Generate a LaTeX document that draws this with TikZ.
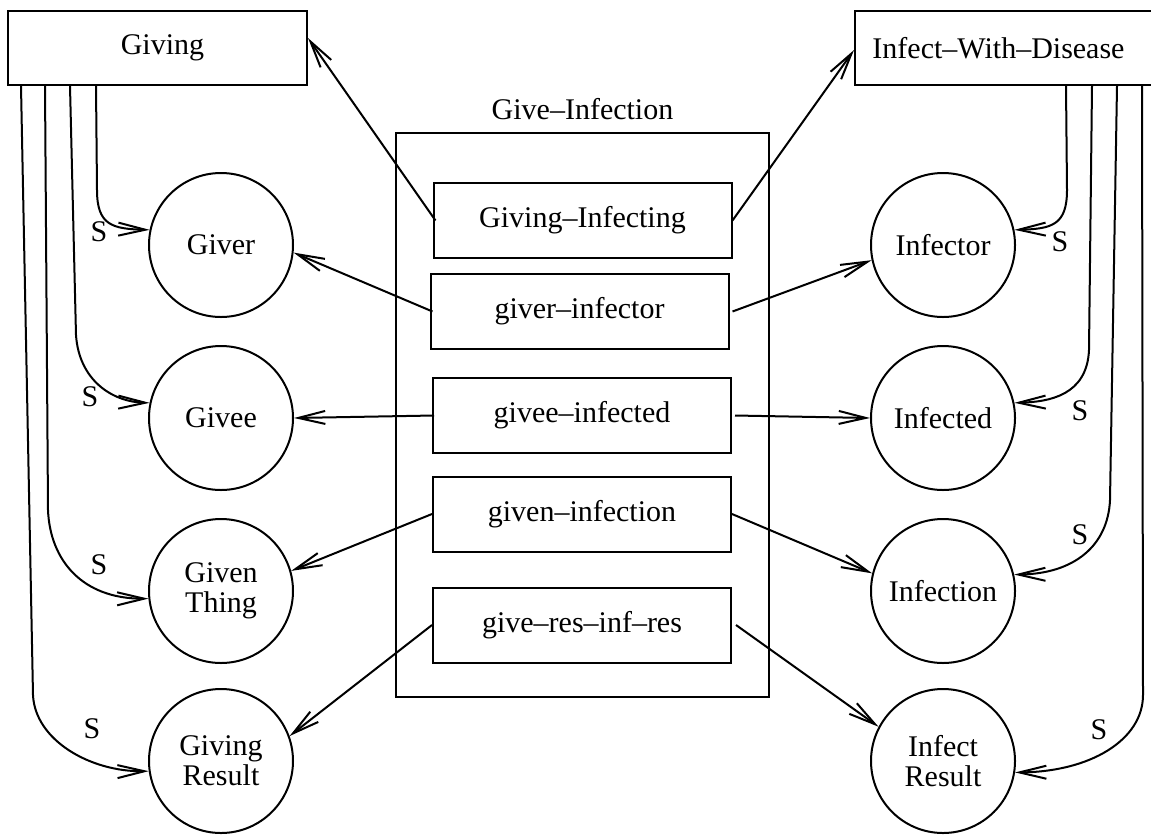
\documentclass[tikz,border=0pt]{standalone}
\usepackage{fontspec}
\setmainfont{Liberation Serif}
\usetikzlibrary{arrows.meta}
\begin{document}
\begin{tikzpicture}[x=1pt,y=-1pt,
  every node/.style={font=\fontsize{30}{30}\selectfont},
  box/.style={draw, rectangle, line width=2pt, inner sep=0pt},
  framebox/.style={box, minimum width=299pt, minimum height=74pt},
  relbox/.style={box, minimum width=298pt, minimum height=75pt},
  role/.style={draw, circle, line width=2pt, minimum size=144pt, inner sep=0pt, align=center},
  link/.style={line width=2pt, -{Straight Barb[length=27pt,width=13pt]}},
  slabel/.style={inner sep=0pt}]
\useasboundingbox (0,0) rectangle (1151,836);
\clip (0,0) rectangle (1151,836);

% frames
\node[framebox, label={[xshift=5pt]center:Giving}] (giving) at (157.5,48) {};
\node[framebox, label={[xshift=-6pt]center:Infect--With--Disease}] (infect) at (1004.5,48) {};

% the mapping frame and its relation boxes
\node[box, minimum width=373pt, minimum height=564pt,
      label={[label distance=12pt, inner sep=0pt]above:Give--Infection}] (mapping) at (582.5,415) {};
\node[relbox] (gi) at (582.5,220.5) {Giving--Infecting};
\node[relbox] (gr) at (579.5,311.5) {giver--infector};
\node[relbox] (ge) at (582,415.5) {givee--infected};
\node[relbox] (gn) at (582,514) {given--infection};
\node[relbox] (gs) at (582,625) {give--res--inf--res};

% roles of Giving
\node[role] (giver) at (221,245) {Giver};
\node[role] (givee) at (221,418) {Givee};
\node[role] (given) at (221,591) {Given\\Thing};
\node[role] (givres) at (221,761) {Giving\\Result};

% roles of Infect-With-Disease
\node[role] (infector) at (943,245) {Infector};
\node[role] (infected) at (943,418) {Infected};
\node[role] (infection) at (943,591) {Infection};
\node[role] (infres) at (943,761) {Infect\\Result};

% mapping links
\draw[link] ([xshift=3pt]gi.west) -- ([yshift=10pt]giving.east);
\draw[link] (gi.east) -- ([yshift=-2pt]infect.west);
\draw[link] ([xshift=3pt]gr.west) -- (giver.-6);
\draw[link] ([xshift=3pt]gr.east) -- (infector.192);
\draw[link] ([xshift=2pt]ge.west) -- (givee.east);
\draw[link] ([xshift=3pt]ge.east) -- (infected.west);
\draw[link] (gn.west) -- (given.16);
\draw[link] (gn.east) -- (infection.166);
\draw[link] (gs.west) -- (givres.20);
\draw[link] ([xshift=4pt]gs.east) -- (infres.152);

% frame-to-role links, left
\draw[link] ([xshift=89pt]giving.south west) -- (97,190) .. controls (97,225) and (112,229) .. (giver.168);
\draw[link] ([xshift=63pt]giving.south west) -- (76,335) .. controls (79,380) and (112,402) .. (givee.168);
\draw[link] ([xshift=38pt]giving.south west) -- (48,510) .. controls (50,560) and (82,599) .. (given.186);
\draw[link] ([xshift=14pt]giving.south west) -- (33,695) .. controls (35,740) and (90,772) .. (givres.188);

% frame-to-role links, right
\draw[link] ([xshift=212pt]infect.south west) -- (1067,190) .. controls (1067,225) and (1052,229) .. (infector.12);
\draw[link] ([xshift=238pt]infect.south west) -- (1089,350) .. controls (1087,395) and (1050,402) .. (infected.12);
\draw[link] ([xshift=263pt]infect.south west) -- (1110,500) .. controls (1108,545) and (1075,574) .. (infection.13);
\draw[link] ([xshift=288pt]infect.south west) -- (1143,695) .. controls (1143,740) and (1090,772) .. (infres.-9);

% S labels
\node[slabel] (sl1) at (99,232) {S};
\node[slabel] (sl2) at (90,397) {S};
\node[slabel] (sl3) at (99,565) {S};
\node[slabel] (sl4) at (92,729) {S};
\node[slabel] (sr1) at (1060,242) {S};
\node[slabel] (sr2) at (1080,411) {S};
\node[slabel] (sr3) at (1080,535) {S};
\node[slabel] (sr4) at (1099,730) {S};
\end{tikzpicture}
\end{document}
